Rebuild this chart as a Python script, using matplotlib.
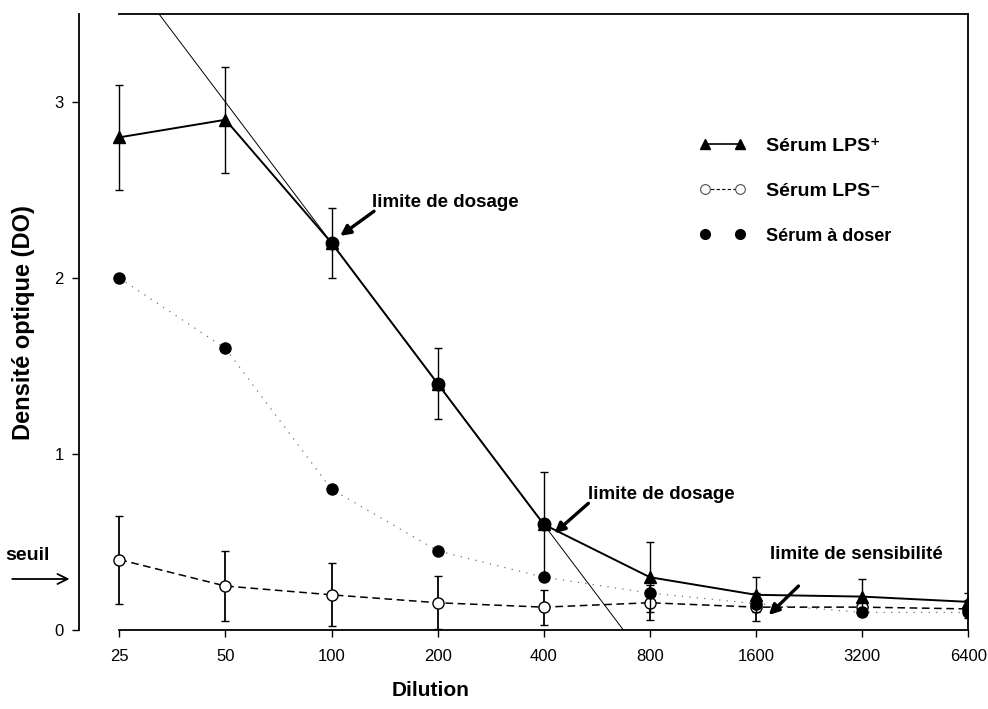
import matplotlib
matplotlib.use("Agg")
import matplotlib.pyplot as plt
from matplotlib.lines import Line2D
import numpy as np

plt.rcParams["font.family"] = ["Liberation Sans", "DejaVu Sans"]

# dilutions (equally spaced categories)
dilutions = ["25", "50", "100", "200", "400", "800", "1600", "3200", "6400"]

# Sérum LPS+ (triangles, solid)
lps_pos = [2.80, 2.90, 2.20, 1.40, 0.60, 0.30, 0.20, 0.19, 0.16]
lps_pos_err = [0.30, 0.30, 0.20, 0.20, 0.30, 0.20, 0.10, 0.10, 0.05]

# Sérum LPS- (open circles, dashed)
lps_neg = [0.40, 0.25, 0.20, 0.155, 0.13, 0.155, 0.13, 0.13, 0.12]
lps_neg_err = [0.25, 0.20, 0.18, 0.15, 0.10, 0.10, 0.08, 0.05, 0.05]

# Sérum à doser (filled circles, dotted)
sample = [2.00, 1.60, 0.80, 0.45, 0.30, 0.21, 0.15, 0.10, 0.10]

# filled circles marking the linear zone on the LPS+ curve
linear_idx = [2, 3, 4]

# straight line fitted through the linear zone: OD = a + b * step
fit_a = 3.8
fit_b = -0.8

x = np.arange(len(dilutions))

fig = plt.figure(figsize=(9.88, 7.09), dpi=100)
ax = fig.add_axes([0.080, 0.1114, 0.900, 0.8686])

# fit line
xf = np.array([0.0, -fit_a / fit_b])
ax.plot(xf, fit_a + fit_b * xf, color="black", lw=0.7, zorder=2)

# sample
ax.plot(x, sample, color="0.45", lw=0.9, ls=(0, (1, 5)), zorder=3)
ax.plot(x, sample, ls="none", marker="o", ms=8, color="black", zorder=5)

# LPS-
ax.errorbar(x, lps_neg, yerr=lps_neg_err, color="black", lw=1.1,
            ls=(0, (5, 3)), marker="o", ms=8, mfc="white", mec="black",
            elinewidth=1.3, capsize=3, capthick=1, zorder=4)

# LPS+
ax.errorbar(x, lps_pos, yerr=lps_pos_err, color="black", lw=1.4,
            marker="^", ms=8, elinewidth=1, capsize=3, capthick=1, zorder=6)
ax.plot(x[linear_idx], np.array(lps_pos)[linear_idx], ls="none",
        marker="o", ms=9, color="black", zorder=7)

ax.set_xlim(-0.38, 8)
ax.set_ylim(0, 3.5)
ax.set_xticks(x)
ax.set_xticklabels(dilutions)
ax.set_yticks([0, 1, 2, 3])
ax.tick_params(axis="both", direction="out", length=5, width=1,
               labelsize=12, pad=6)
ax.tick_params(axis="x", pad=9)
for s in ax.spines.values():
    s.set_linewidth(1.3)
ax.spines["top"].set_bounds(0, 8)
ax.spines["bottom"].set_bounds(0, 8)

ax.set_ylabel("Densité optique (DO)", fontsize=17, fontweight="bold",
              labelpad=14)
ax.set_xlabel("Dilution", fontsize=15, fontweight="bold")
ax.xaxis.set_label_coords(0.395, -0.082)

# annotations
arrow = dict(arrowstyle="-|>", lw=2.4, color="black", mutation_scale=15,
             shrinkA=0, shrinkB=0)
ax.text(2.38, 2.38, "limite de dosage", fontsize=13.5, fontweight="bold",
        ha="left", va="bottom")
ax.annotate("", xy=(2.08, 2.24), xytext=(2.4, 2.38), arrowprops=arrow)
ax.text(4.42, 0.72, "limite de dosage", fontsize=13.5, fontweight="bold",
        ha="left", va="bottom")
ax.annotate("", xy=(4.1, 0.55), xytext=(4.42, 0.72), arrowprops=arrow)
ax.text(6.13, 0.38, "limite de sensibilité", fontsize=13.5,
        fontweight="bold", ha="left", va="bottom")
ax.annotate("", xy=(6.12, 0.085), xytext=(6.4, 0.25), arrowprops=arrow)

fig.text(0.005, 1 - 556 / 709, "seuil", fontsize=14, fontweight="bold",
         va="center", ha="left")
ax.annotate("", xy=(-0.47, 0.29), xytext=(-1.01, 0.29),
            xycoords="data", annotation_clip=False,
            arrowprops=dict(arrowstyle="->", lw=1.3, color="black",
                            mutation_scale=18, shrinkA=0, shrinkB=0))

# legend
handles = [
    Line2D([], [], color="black", lw=1.2, marker="^", ms=7),
    Line2D([], [], color="black", lw=0.8, ls=(0, (3, 2)), marker="o", ms=7,
           mfc="white", mec="0.3", mew=0.8),
    Line2D([], [], ls="none", marker="o", ms=7, color="black"),
]
labels = ["Sérum LPS\u207a", "Sérum LPS\u207b", "Sérum à doser"]
leg = ax.legend(handles, labels, loc="upper left",
                bbox_to_anchor=(0.678, 0.828), numpoints=2, frameon=False,
                handlelength=2.4, handletextpad=1.0, labelspacing=1.4,
                prop=dict(size=14, weight="bold"))
leg.get_texts()[2].set_fontsize(13)

fig.savefig("out.png", dpi=100)
